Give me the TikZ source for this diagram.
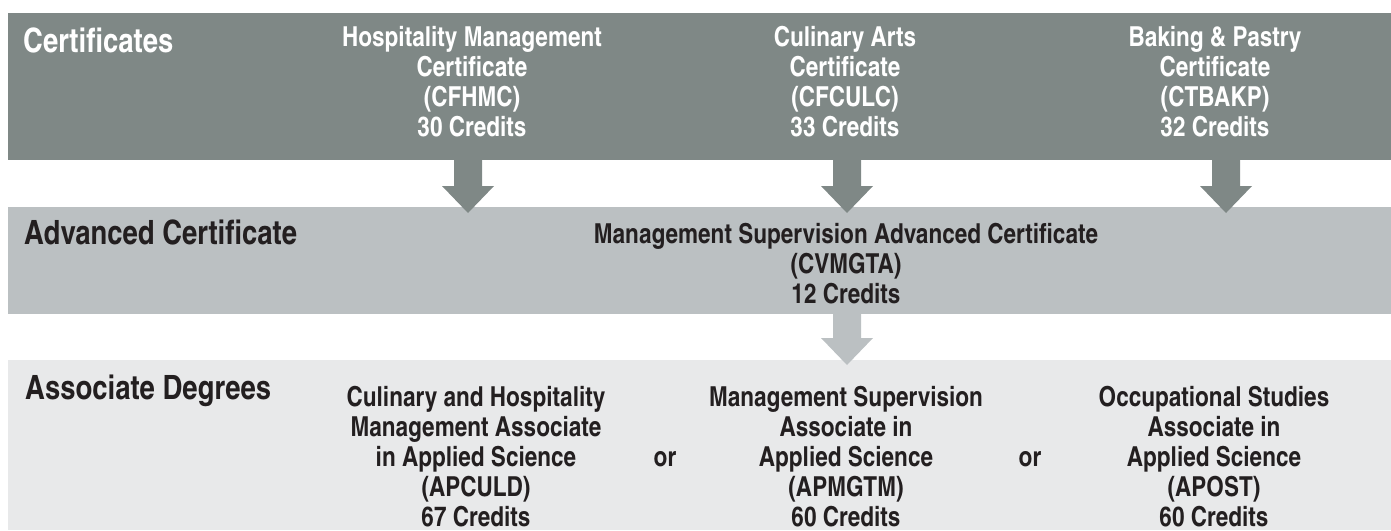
\documentclass[tikz,border=0pt]{standalone}
\usepackage{fontspec}
\setmainfont{texgyreheroscn-bold.otf}
\definecolor{bandA}{HTML}{7F8886}
\definecolor{bandB}{HTML}{BBC0C2}
\definecolor{bandC}{HTML}{E8E9EA}
\definecolor{ink}{HTML}{231F20}
\newcommand\mystack[1]{\begin{tabular}[t]{@{}c@{}}#1\end{tabular}}
\newcommand\blockarrow[3]{%
  \fill[#3] ([xshift=-14pt]#1) -- ([xshift=-14pt,yshift=27pt]#2) -- ([xshift=-26pt,yshift=27pt]#2)
    -- (#2) -- ([xshift=26pt,yshift=27pt]#2) -- ([xshift=14pt,yshift=27pt]#2) -- ([xshift=14pt]#1) -- cycle;}
\begin{document}
\begin{tikzpicture}[x=1pt,y=-1pt,
  band/.style={draw=none,inner sep=0pt,minimum width=1383pt,anchor=north west},
  lbl/.style={anchor=base west,inner sep=0pt,font=\fontsize{33.5}{36}\selectfont},
  item/.style={anchor=base,inner sep=0pt,font=\fontsize{27.5}{30}\selectfont}]
\useasboundingbox (0,0) rectangle (1391,530);
% bands
\node[band,fill=bandA,minimum height=147pt] (certband) at (8,13) {};
\node[band,fill=bandB,minimum height=107pt] (advband) at (8,207) {};
\node[band,fill=bandC,minimum height=170pt] (assocband) at (8,360) {};
% arrow end points
\coordinate (a1s) at (468,159);
\coordinate (a1e) at (468,213);
\coordinate (a2s) at (847,159);
\coordinate (a2e) at (847,213);
\coordinate (a3s) at (1226,159);
\coordinate (a3e) at (1226,213);
\coordinate (a4s) at (847,313);
\coordinate (a4e) at (847,365);
\blockarrow{a1s}{a1e}{bandA}
\blockarrow{a2s}{a2e}{bandA}
\blockarrow{a3s}{a3e}{bandA}
\blockarrow{a4s}{a4e}{bandB}
% row 1
\node[lbl,text=white] (certlbl) at (23,52) {Certificates};
\node[item,text=white] (c1) at (472,46) {\mystack{Hospitality Management\\Certificate\\(CFHMC)\\30 Credits}};
\node[item,text=white] (c2) at (845,46) {\mystack{Culinary Arts\\Certificate\\(CFCULC)\\33 Credits}};
\node[item,text=white] (c3) at (1215,46) {\mystack{Baking \& Pastry\\Certificate\\(CTBAKP)\\32 Credits}};
% row 2
\node[lbl,text=ink] (advlbl) at (24,244) {Advanced Certificate};
\node[item,text=ink] (adv) at (846,243) {\mystack{Management Supervision Advanced Certificate\\(CVMGTA)\\12 Credits}};
% row 3
\node[lbl,text=ink] (assoclbl) at (25,399) {Associate Degrees};
\node[item,text=ink] (d1) at (476,406) {\mystack{Culinary and Hospitality\\Management Associate\\in Applied Science\\(APCULD)\\67 Credits}};
\node[item,text=ink] (or1) at (665,466) {or};
\node[item,text=ink] (d2) at (846,406) {\mystack{Management Supervision\\Associate in\\Applied Science\\(APMGTM)\\60 Credits}};
\node[item,text=ink] (or2) at (1030,466) {or};
\node[item,text=ink] (d3) at (1214,406) {\mystack{Occupational Studies\\Associate in\\Applied Science\\(APOST)\\60 Credits}};
\end{tikzpicture}
\end{document}
